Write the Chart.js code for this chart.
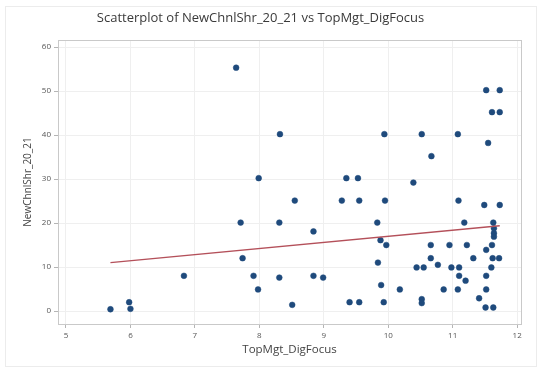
<!DOCTYPE html>
<html>
<head>
<meta charset="utf-8">
<script src="https://cdn.jsdelivr.net/npm/chart.js@4/dist/chart.umd.min.js"></script>
<style>
  html, body { margin: 0; padding: 0; background: #fff; }
  #wrap { width: 543px; height: 367px; position: relative; }
</style>
</head>
<body>
<div id="wrap"><canvas id="c" width="543" height="367"></canvas></div>
<script>
// TopMgt_DigFocus (x) and NewChnlShr_20_21 (y) observations
const topMgtDigFocus = [
  5.69, 5.98, 6.00, 6.83, 7.64, 7.71, 7.74, 7.91, 7.98, 7.99,
  8.31, 8.32, 8.31, 8.51, 8.55, 8.84, 8.84, 8.99, 9.28, 9.35,
  9.40, 9.53, 9.55, 9.55, 9.83, 9.84, 9.88, 9.89, 9.93, 9.94,
  9.95, 9.97, 10.18, 10.39, 10.44, 10.52, 10.52, 10.52, 10.55, 10.66,
  10.66, 10.67, 10.77, 10.86, 10.95, 10.98, 11.08, 11.08, 11.09, 11.10,
  11.10, 11.18, 11.20, 11.22, 11.32, 11.41, 11.49, 11.51, 11.52, 11.52,
  11.52, 11.52, 11.55, 11.60, 11.61, 11.61, 11.62, 11.63, 11.64, 11.64,
  11.64, 11.63, 11.72, 11.73, 11.73, 11.73
];
const newChnlShr = [
  0.4, 2.0, 0.5, 8.0, 55.3, 20.1, 12.0, 8.0, 4.9, 30.2,
  20.1, 40.2, 7.6, 1.4, 25.1, 18.1, 8.0, 7.6, 25.1, 30.2,
  2.0, 30.2, 25.1, 2.0, 20.1, 11.0, 16.1, 5.9, 2.0, 40.2,
  25.1, 15.0, 4.9, 29.2, 9.9, 40.2, 2.7, 1.8, 9.9, 15.0,
  12.0, 35.2, 10.5, 4.9, 15.0, 9.9, 40.2, 4.9, 25.1, 9.9,
  8.0, 20.1, 6.9, 15.0, 12.0, 2.9, 24.1, 0.8, 50.2, 13.9,
  8.0, 4.9, 38.2, 9.9, 45.2, 15.0, 12.0, 20.1, 18.8, 17.7,
  16.9, 0.8, 12.0, 50.2, 45.2, 24.1
];

// Fitted regression line end points (x, y)
const fitX = [5.69, 11.73];
const fitY = [11.0, 19.4];

// Axis tick values
const xTickValues = [5, 6, 7, 8, 9, 10, 11, 12];
const yTickValues = [0, 10, 20, 30, 40, 50, 60];

const pointData = topMgtDigFocus.map((x, i) => ({ x: x, y: newChnlShr[i] }));
const fitData = fitX.map((x, i) => ({ x: x, y: fitY[i] }));

const fontFamily = "'Open Sans', 'Noto Sans', sans-serif";
const tickFont = { family: fontFamily, size: 8 };

// Outer panel border and plot-area frame
const framePlugin = {
  id: 'frame',
  beforeDraw(chart) {
    const ctx = chart.ctx;
    ctx.save();
    ctx.fillStyle = '#ffffff';
    ctx.fillRect(0, 0, chart.width, chart.height);
    ctx.strokeStyle = '#ececec';
    ctx.lineWidth = 1;
    ctx.strokeRect(5.5, 6.5, 531, 360);
    ctx.restore();
  },
  afterDatasetsDraw(chart) {
    const a = chart.chartArea;
    const ctx = chart.ctx;
    ctx.save();
    ctx.strokeStyle = '#c9c9c9';
    ctx.lineWidth = 1;
    ctx.strokeRect(Math.round(a.left) + 0.5, Math.round(a.top) + 0.5,
                   Math.round(a.right - a.left), Math.round(a.bottom - a.top));
    ctx.restore();
  }
};

new Chart(document.getElementById('c'), {
  type: 'scatter',
  data: {
    datasets: [
      {
        label: 'NewChnlShr_20_21',
        data: pointData,
        backgroundColor: '#1f4a7c',
        borderColor: '#1f4a7c',
        borderWidth: 0.5,
        pointRadius: 2.9,
        pointHoverRadius: 2.9,
        order: 2
      },
      {
        label: 'Fit',
        data: fitData,
        showLine: true,
        borderColor: '#b4505a',
        borderWidth: 1.5,
        pointRadius: 0,
        fill: false,
        order: 1
      }
    ]
  },
  options: {
    responsive: false,
    animation: false,
    events: [],
    layout: { padding: { left: 0, right: 22, top: 0, bottom: 0 } },
    plugins: {
      legend: { display: false },
      tooltip: { enabled: false },
      title: {
        display: true,
        text: 'Scatterplot of NewChnlShr_20_21 vs TopMgt_DigFocus',
        color: '#3a3a3a',
        font: { family: fontFamily, size: 13, weight: 'normal', lineHeight: 1.2 },
        padding: { top: 10, bottom: 14.4 }
      }
    },
    scales: {
      x: {
        type: 'linear',
        min: 4.876,
        max: 12.06,
        afterBuildTicks: s => { s.ticks = xTickValues.map(v => ({ value: v })); },
        afterFit: s => { s.height = 43; },
        ticks: { color: '#555', font: tickFont, padding: 3, maxRotation: 0, autoSkip: false },
        grid: { color: '#efefef', tickColor: '#b5b5b5', tickLength: 4 },
        border: { display: false },
        title: {
          display: true,
          text: 'TopMgt_DigFocus',
          color: '#444',
          font: { family: fontFamily, size: 11.5, lineHeight: 1.2 },
          padding: { top: 0, bottom: 10 }
        }
      },
      y: {
        type: 'linear',
        min: -2.95,
        max: 61.6,
        afterBuildTicks: s => { s.ticks = yTickValues.map(v => ({ value: v })); },
        afterFit: s => { s.width = 58; },
        ticks: { color: '#555', font: tickFont, padding: 3 },
        grid: { color: '#efefef', tickColor: '#b5b5b5', tickLength: 4 },
        border: { display: false },
        title: {
          display: true,
          text: 'NewChnlShr_20_21',
          color: '#444',
          font: { family: fontFamily, size: 10, lineHeight: 1.2 },
          padding: { top: 22, bottom: 0 }
        }
      }
    }
  },
  plugins: [framePlugin]
});
</script>
</body>
</html>
